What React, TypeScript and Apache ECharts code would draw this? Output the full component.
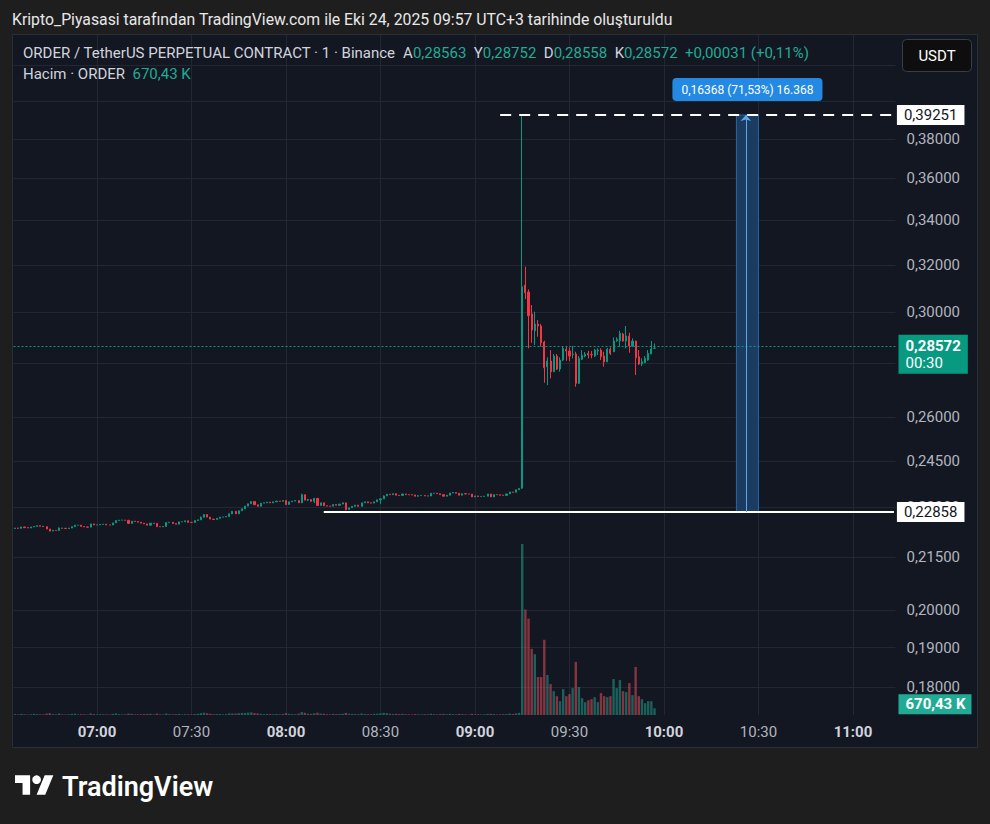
import React, { useEffect, useRef } from 'react';
import * as echarts from 'echarts';

// ---------- time axis (1-minute candles) ----------
const FIRST_MINUTE = 6 * 60 + 34; // 06:34
const LAST_MINUTE = 11 * 60 + 13; // 11:13
const pad2 = (n: number) => String(n).padStart(2, '0');
const TIME_CATEGORIES: string[] = [];
for (let m = FIRST_MINUTE; m <= LAST_MINUTE; m++) {
  TIME_CATEGORIES.push(`${pad2(Math.floor(m / 60))}:${pad2(m % 60)}`);
}

// ---------- price axis ticks (logarithmic scale) ----------
const PRICE_LABEL_TICKS = [0.38, 0.36, 0.34, 0.32, 0.3, 0.26, 0.245, 0.23, 0.215, 0.2, 0.19, 0.18];
const PRICE_GRID_ONLY_TICKS = [0.42, 0.4, 0.28];
const PRICE_MIN = 0.17335;
const PRICE_MAX = 0.43771;

// ---------- candles 06:34 .. 09:14 (close prices; open = previous close) ----------
const PRE_FIRST_OPEN = 0.22349;
const PRE_CLOSE = [
  0.22364, 0.22355, 0.22396, 0.22374, 0.22364, 0.22396, 0.22411, 0.22436, 0.22417, 0.22405,
  0.22333, 0.22271, 0.22293, 0.22286, 0.22364, 0.22355, 0.22349, 0.22364, 0.22405, 0.22449,
  0.22449, 0.22411, 0.22396, 0.2239, 0.22489, 0.22458, 0.22458, 0.22474, 0.2248, 0.22458,
  0.22455, 0.2252, 0.22592, 0.22605, 0.22605, 0.22598, 0.22505, 0.22573, 0.22561, 0.22542,
  0.22511, 0.22489, 0.22449, 0.22511, 0.22505, 0.22405, 0.22402, 0.22411, 0.2253, 0.22542,
  0.22499, 0.2248, 0.22552, 0.22555, 0.22583, 0.22536, 0.22533, 0.22592, 0.22614, 0.22692,
  0.22779, 0.22698, 0.22636, 0.22623, 0.22661, 0.22698, 0.227, 0.22717, 0.22801, 0.22879,
  0.22801, 0.22895, 0.22957, 0.23041, 0.23113, 0.23185, 0.23082, 0.23035, 0.23135, 0.23144,
  0.23166, 0.23144, 0.23176, 0.23198, 0.23191, 0.23216, 0.23091, 0.23176, 0.23198, 0.23216,
  0.23144, 0.23403, 0.23229, 0.23247, 0.23191, 0.23285, 0.2306, 0.23144, 0.23051, 0.23041,
  0.23038, 0.23091, 0.23066, 0.23104, 0.23144, 0.22935, 0.22988, 0.23035, 0.23073, 0.23035,
  0.23144, 0.23176, 0.23144, 0.23135, 0.23176, 0.23238, 0.23269, 0.23363, 0.23416, 0.23403,
  0.23435, 0.23385, 0.23378, 0.23425, 0.23403, 0.234, 0.23394, 0.23353, 0.23372, 0.23375,
  0.23363, 0.2336, 0.23447, 0.2345, 0.23435, 0.23403, 0.23353, 0.23385, 0.23456, 0.23472,
  0.23447, 0.23385, 0.23435, 0.23425, 0.23422, 0.23332, 0.23363, 0.23345, 0.23347, 0.23353,
  0.23425, 0.23332, 0.23403, 0.234, 0.23385, 0.2338, 0.23425, 0.23488, 0.23478, 0.23559,
  0.23603,
];
// visible wicks on the early candles: index -> [low, high]
const PRE_WICKS: Record<number, [number, number]> = {
  11: [0.2226, 0.22333], 14: [0.22286, 0.2238], 36: [0.22505, 0.22614], 59: [0.22614, 0.2272],
  60: [0.22692, 0.2279], 86: [0.2308, 0.23216], 91: [0.23144, 0.23435], 93: [0.232, 0.2327],
  95: [0.23135, 0.233], 105: [0.2291, 0.23144], 116: [0.2311, 0.2328], 117: [0.23269, 0.2338],
};

// ---------- candles 09:15 .. 09:57 as [open, close, low, high] ----------
const POST_OHLC: [number, number, number, number][] = [
  [0.23612, 0.31064, 0.2359, 0.39251],
  [0.31136, 0.30812, 0.30548, 0.31922],
  [0.30841, 0.29862, 0.28564, 0.30955],
  [0.29931, 0.29285, 0.28783, 0.303],
  [0.29257, 0.29526, 0.28693, 0.30025],
  [0.29526, 0.29446, 0.29019, 0.29687],
  [0.29446, 0.28783, 0.28626, 0.29526],
  [0.2881, 0.27819, 0.27257, 0.28862],
  [0.27857, 0.28074, 0.27171, 0.28216],
  [0.28074, 0.27668, 0.2742, 0.28498],
  [0.27668, 0.28266, 0.27657, 0.28344],
  [0.28266, 0.2777, 0.27732, 0.28344],
  [0.2777, 0.28112, 0.27668, 0.28216],
  [0.28112, 0.28564, 0.28074, 0.28654],
  [0.28525, 0.28459, 0.28085, 0.28626],
  [0.28459, 0.28266, 0.28074, 0.286],
  [0.28324, 0.28344, 0.28177, 0.28654],
  [0.28344, 0.27234, 0.27108, 0.28432],
  [0.27234, 0.28177, 0.27208, 0.28266],
  [0.28139, 0.28293, 0.28112, 0.28498],
  [0.28266, 0.28332, 0.28216, 0.2842],
  [0.2837, 0.28305, 0.28177, 0.28471],
  [0.2833, 0.28318, 0.28177, 0.28459],
  [0.28266, 0.28498, 0.28228, 0.28537],
  [0.28459, 0.28498, 0.28305, 0.28564],
  [0.28498, 0.2824, 0.28112, 0.28564],
  [0.28266, 0.28047, 0.27857, 0.28432],
  [0.28047, 0.28525, 0.28036, 0.28576],
  [0.28525, 0.2837, 0.28305, 0.286],
  [0.28432, 0.2885, 0.2842, 0.28995],
  [0.28862, 0.28917, 0.28823, 0.28995],
  [0.28862, 0.29154, 0.28626, 0.29257],
  [0.29126, 0.2885, 0.28823, 0.29178],
  [0.2885, 0.29047, 0.28564, 0.29446],
  [0.29047, 0.28654, 0.28393, 0.29178],
  [0.28654, 0.2885, 0.28626, 0.28955],
  [0.2885, 0.282, 0.27544, 0.28862],
  [0.2824, 0.2796, 0.27922, 0.28498],
  [0.2796, 0.28047, 0.27884, 0.28177],
  [0.28009, 0.28177, 0.27998, 0.28266],
  [0.28112, 0.2837, 0.28085, 0.28498],
  [0.28344, 0.28541, 0.28344, 0.2885],
  [0.28563, 0.28572, 0.28558, 0.28752],
];

// ---------- volume (thousands of ORDER) ----------
const PRE_VOLUME = [
  90, 60, 110, 70, 50, 80, 120, 90, 70, 60,
  140, 180, 90, 70, 150, 60, 50, 70, 110, 130,
  60, 80, 70, 50, 150, 90, 60, 80, 70, 60,
  50, 120, 160, 90, 60, 70, 140, 110, 60, 70,
  80, 90, 110, 120, 60, 140, 70, 60, 150, 80,
  70, 90, 110, 60, 80, 70, 60, 100, 120, 190,
  230, 170, 120, 80, 90, 100, 70, 90, 160, 150,
  140, 180, 200, 210, 240, 260, 190, 160, 120, 90,
  110, 90, 80, 100, 70, 110, 180, 120, 90, 80,
  140, 290, 220, 130, 110, 170, 230, 140, 120, 80,
  70, 110, 90, 100, 120, 210, 130, 110, 90, 80,
  150, 100, 90, 80, 110, 140, 160, 220, 190, 120,
  100, 110, 90, 120, 80, 70, 60, 90, 70, 60,
  80, 70, 130, 80, 60, 90, 110, 80, 120, 90,
  70, 110, 90, 60, 50, 120, 70, 80, 60, 70,
  110, 120, 100, 60, 70, 80, 90, 140, 110, 170,
  220,
];
const POST_VOLUME = [
  16970, 10470, 9570, 6570, 6030, 3770, 3770, 7470, 3970, 3070,
  2370, 1870, 1370, 2570, 1870, 2070, 2670, 5270, 2770, 1670,
  1270, 1470, 1570, 1770, 1270, 2170, 1870, 1770, 1870, 3570,
  2670, 3470, 2370, 2270, 3170, 1970, 4770, 1870, 1570, 1170,
  1370, 1370, 670.43,
];
const VOLUME_AXIS_MAX = 67500;

// ---------- drawings ----------
const LEVEL_LINE_PRICE = 0.22858;
const LEVEL_LINE_START = '08:12';
const HIGH_LINE_PRICE = 0.39251;
const HIGH_LINE_START = '09:08';
const MEASURE_FROM = '10:23';
const MEASURE_TO = '10:30';
const MEASURE_MID = '10:26';
const MEASURE_TEXT = '0,16368 (71,53%) 16.368';
const BAR_COUNTDOWN = '00:30';

const TITLE_TEXT = 'Kripto_Piyasasi tarafından TradingView.com ile Eki 24, 2025 09:57 UTC+3 tarihinde oluşturuldu';
const SYMBOL_TEXT = 'ORDER / TetherUS PERPETUAL CONTRACT · 1 · Binance';
const VOLUME_TEXT = 'Hacim · ORDER';

const UP = '#089981';
const DOWN = '#f23645';
const VOL_UP = 'rgba(34,171,148,0.5)';
const VOL_DOWN = 'rgba(247,82,95,0.5)';
const MEASURE_FILL = '#1c3b60';
const MEASURE_BORDER = '#2766a6';
const FONT = 'Roboto, "Liberation Sans", sans-serif';
const FS = 15;

const fmtPrice = (p: number) => p.toFixed(5).replace('.', ',');
const fmtK = (v: number) => v.toFixed(2).replace('.', ',') + ' K';

echarts.graphic.registerShape(
  'tvlogo',
  echarts.graphic.extendPath('M14 22H7V11H0V4h14v18zM28 22h-8l7.5-18h8L28 22z', {}) as any
);

function buildOption() {
  const ohlc: [number, number, number, number][] = [];
  PRE_CLOSE.forEach((c, i) => {
    const o = i === 0 ? PRE_FIRST_OPEN : PRE_CLOSE[i - 1];
    const w = PRE_WICKS[i];
    const lo = w ? w[0] : Math.min(o, c);
    const hi = w ? w[1] : Math.max(o, c);
    ohlc.push([o, c, lo, hi]);
  });
  POST_OHLC.forEach((r) => ohlc.push(r));

  const isUp = ohlc.map((r, i) => (r[1] > r[0] ? true : r[1] < r[0] ? false : i === 0 || r[1] >= ohlc[i - 1][1]));
  const volumes = [...PRE_VOLUME, ...POST_VOLUME];
  const last = ohlc[ohlc.length - 1];
  const prevClose = ohlc[ohlc.length - 2][1];
  const change = last[1] - prevClose;
  const changePct = (change / prevClose) * 100;
  const lastVol = volumes[volumes.length - 1];

  const ln = Math.log;
  const isLabelTime = (_i: number, v: string) => v.endsWith(':00') || v.endsWith(':30');
  const lastCat = TIME_CATEGORIES[TIME_CATEGORIES.length - 1];

  const whiteLabel = (text: string) => ({
    show: true,
    position: 'end',
    distance: 3,
    formatter: text,
    color: '#131722',
    backgroundColor: '#ffffff',
    padding: [3, 7, 2, 7],
    fontSize: FS,
    fontFamily: FONT,
  });

  const legend1 =
    `{n|${SYMBOL_TEXT}}  {n|A}{g|${fmtPrice(last[0])}}  {n|Y}{g|${fmtPrice(last[3])}}  ` +
    `{n|D}{g|${fmtPrice(last[2])}}  {n|K}{g|${fmtPrice(last[1])}}  ` +
    `{g|${change >= 0 ? '+' : ''}${change.toFixed(5).replace('.', ',')} (${changePct >= 0 ? '+' : ''}${changePct.toFixed(2).replace('.', ',')}%)}`;
  const legend2 = `{n|${VOLUME_TEXT}}  {g|${fmtK(lastVol)}}`;
  const legendRich = {
    n: { fill: '#d1d4dc', fontSize: FS, fontFamily: FONT },
    g: { fill: '#22ab94', fontSize: FS, fontFamily: FONT },
  };

  const logoScale = 1.08;
  const logoX = 15;
  const logoY = 771;

  const measureBox = [
    [TIME_CATEGORIES.indexOf(MEASURE_FROM), TIME_CATEGORIES.indexOf(MEASURE_TO), ln(LEVEL_LINE_PRICE), ln(HIGH_LINE_PRICE)],
  ];

  return {
    animation: false,
    backgroundColor: '#1e1e1e',
    textStyle: { fontFamily: FONT },
    grid: { left: 13.5, top: 35, width: 882, height: 680, containLabel: false },
    xAxis: {
      type: 'category',
      data: TIME_CATEGORIES,
      boundaryGap: true,
      axisLine: { show: false },
      axisTick: { show: false, alignWithLabel: true, interval: isLabelTime },
      splitLine: { show: true, interval: isLabelTime, alignWithLabel: true, lineStyle: { color: '#232734', width: 1 } },
      axisLabel: {
        interval: isLabelTime,
        margin: 9,
        formatter: (v: string) => (v.endsWith(':00') ? `{b|${v}}` : `{r|${v}}`),
        rich: {
          b: { color: '#d1d4dc', fontWeight: 'bold', fontSize: FS, fontFamily: FONT },
          r: { color: '#b2b5be', fontSize: FS, fontFamily: FONT },
        },
      },
    },
    yAxis: [
      {
        type: 'value',
        position: 'right',
        min: ln(PRICE_MIN),
        max: ln(PRICE_MAX),
        axisLine: { show: false },
        axisTick: { show: false, customValues: [...PRICE_GRID_ONLY_TICKS, ...PRICE_LABEL_TICKS].map(ln) },
        splitLine: { show: true, lineStyle: { color: '#232734', width: 1 } },
        axisLabel: {
          customValues: PRICE_LABEL_TICKS.map(ln),
          margin: 11,
          color: '#b2b5be',
          fontSize: FS,
          fontFamily: FONT,
          formatter: (v: number) => fmtPrice(Math.exp(v)),
        },
      },
      {
        type: 'value',
        show: false,
        min: 0,
        max: VOLUME_AXIS_MAX,
        splitLine: { show: false },
      },
    ],
    series: [
      {
        type: 'custom',
        name: 'measure',
        xAxisIndex: 0,
        yAxisIndex: 0,
        silent: true,
        z: 2,
        clip: false,
        data: measureBox,
        renderItem: (_params: any, api: any) => {
          const p0 = api.coord([api.value(0), api.value(2)]);
          const p1 = api.coord([api.value(1), api.value(3)]);
          return {
            type: 'rect',
            shape: { x: p0[0], y: p1[1], width: p1[0] - p0[0], height: p0[1] - p1[1] },
            style: { fill: MEASURE_FILL, stroke: MEASURE_BORDER, lineWidth: 1 },
          };
        },
      },
      {
        type: 'bar',
        name: 'volume',
        xAxisIndex: 0,
        yAxisIndex: 1,
        barWidth: 2.4,
        silent: true,
        z: 1,
        data: volumes.map((v, i) => ({ value: v, itemStyle: { color: isUp[i] ? VOL_UP : VOL_DOWN } })),
        markLine: {
          silent: true,
          symbol: ['none', 'none'],
          animation: false,
          lineStyle: { color: 'rgba(0,0,0,0)', width: 0 },
          label: {
            show: true,
            position: 'end',
            distance: 3,
            formatter: fmtK(lastVol),
            color: '#ffffff',
            fontWeight: 'bold',
            backgroundColor: '#22ab94',
            padding: [3, 6, 2, 7],
            fontSize: FS,
            fontFamily: FONT,
            offset: [0, -4],
          },
          data: [{ yAxis: lastVol }],
        },
      },
      {
        type: 'candlestick',
        name: 'ORDER',
        xAxisIndex: 0,
        yAxisIndex: 0,
        barWidth: 1.6,
        silent: true,
        z: 3,
        itemStyle: { color: UP, color0: DOWN, borderColor: UP, borderColor0: DOWN, borderWidth: 1 },
        data: ohlc.map((r) => r.map((v) => ln(v))),
        markArea: {
          silent: true,
          animation: false,
          itemStyle: { color: 'rgba(0,0,0,0)', borderWidth: 0 },
          label: {
            show: true,
            position: 'top',
            distance: 14,
            formatter: MEASURE_TEXT,
            color: '#ffffff',
            fontSize: 12,
            fontFamily: FONT,
            backgroundColor: '#2389e2',
            padding: [6, 9, 5, 9],
            borderRadius: 4,
          },
          data: [[{ coord: [MEASURE_FROM, ln(LEVEL_LINE_PRICE)] }, { coord: [MEASURE_TO, ln(HIGH_LINE_PRICE)] }]],
        },
        markLine: {
          silent: true,
          animation: false,
          symbol: ['none', 'none'],
          data: [
            {
              yAxis: ln(last[1]),
              lineStyle: { color: UP, type: [2, 2], width: 1 },
              label: {
                show: true,
                position: 'end',
                distance: 3,
                formatter: `{p|${fmtPrice(last[1])}}\n{t|${BAR_COUNTDOWN}}`,
                backgroundColor: UP,
                padding: [3, 7, 2, 7],
                offset: [0, 8],
                rich: {
                  p: { color: '#ffffff', fontWeight: 'bold', fontSize: FS, lineHeight: 17, fontFamily: FONT },
                  t: { color: '#ffffff', fontSize: FS, lineHeight: 17, fontFamily: FONT },
                },
              },
            },
            [
              {
                coord: [HIGH_LINE_START, ln(HIGH_LINE_PRICE)],
                lineStyle: { color: '#ffffff', type: [11, 8], width: 2 },
                label: whiteLabel(fmtPrice(HIGH_LINE_PRICE)),
              },
              { coord: [lastCat, ln(HIGH_LINE_PRICE)] },
            ],
            [
              {
                coord: [LEVEL_LINE_START, ln(LEVEL_LINE_PRICE)],
                lineStyle: { color: '#ffffff', type: 'solid', width: 2 },
                label: whiteLabel(fmtPrice(LEVEL_LINE_PRICE)),
              },
              { coord: [lastCat, ln(LEVEL_LINE_PRICE)] },
            ],
            [
              {
                coord: [MEASURE_MID, ln(LEVEL_LINE_PRICE)],
                symbol: 'none',
                lineStyle: { color: '#5aa9ec', type: 'solid', width: 1 },
                label: { show: false },
              },
              { coord: [MEASURE_MID, ln(HIGH_LINE_PRICE)], symbol: 'arrow', symbolSize: [8, 6] },
            ],
          ],
        },
      },
    ],
    graphic: [
      {
        type: 'rect',
        z: -10,
        silent: true,
        shape: { x: 12.5, y: 34.5, width: 965, height: 713 },
        style: { fill: '#131722', stroke: '#2a2e39', lineWidth: 1 },
      },
      {
        type: 'text',
        z: 100,
        x: 12,
        y: 19,
        style: { text: TITLE_TEXT, fill: '#e8e8e8', fontSize: 15.8, fontFamily: FONT, verticalAlign: 'middle' },
      },
      {
        type: 'text',
        z: 100,
        x: 23,
        y: 53,
        style: { text: legend1, rich: legendRich, verticalAlign: 'middle', fontSize: FS, fontFamily: FONT },
      },
      {
        type: 'text',
        z: 100,
        x: 23,
        y: 74,
        style: { text: legend2, rich: legendRich, verticalAlign: 'middle', fontSize: FS, fontFamily: FONT },
      },
      {
        type: 'rect',
        z: 100,
        shape: { x: 902.5, y: 39.5, width: 69, height: 32, r: 4 },
        style: { fill: '#0e0e0e', stroke: '#3a3d45', lineWidth: 1 },
      },
      {
        type: 'text',
        z: 101,
        x: 937,
        y: 55.5,
        style: { text: 'USDT', fill: '#ffffff', fontSize: FS, fontFamily: FONT, align: 'center', verticalAlign: 'middle' },
      },
      {
        type: 'tvlogo',
        z: 100,
        x: logoX,
        y: logoY,
        scaleX: logoScale,
        scaleY: logoScale,
        style: { fill: '#ffffff' },
      },
      {
        type: 'circle',
        z: 100,
        shape: { cx: logoX + 20 * logoScale, cy: logoY + 8 * logoScale, r: 4 * logoScale },
        style: { fill: '#ffffff' },
      },
      {
        type: 'text',
        z: 100,
        x: 62,
        y: 787,
        style: { text: 'TradingView', fill: '#ffffff', fontSize: 27, fontWeight: 600, fontFamily: FONT, verticalAlign: 'middle' },
      },
    ],
  };
}

export default function App() {
  const ref = useRef<HTMLDivElement>(null);
  useEffect(() => {
    if (!ref.current) return;
    const chart = echarts.init(ref.current, undefined, { renderer: 'svg' });
    chart.setOption(buildOption() as any);
    return () => chart.dispose();
  }, []);
  return <div ref={ref} style={{ position: 'fixed', left: 0, top: 0, width: 990, height: 824 }} />;
}
